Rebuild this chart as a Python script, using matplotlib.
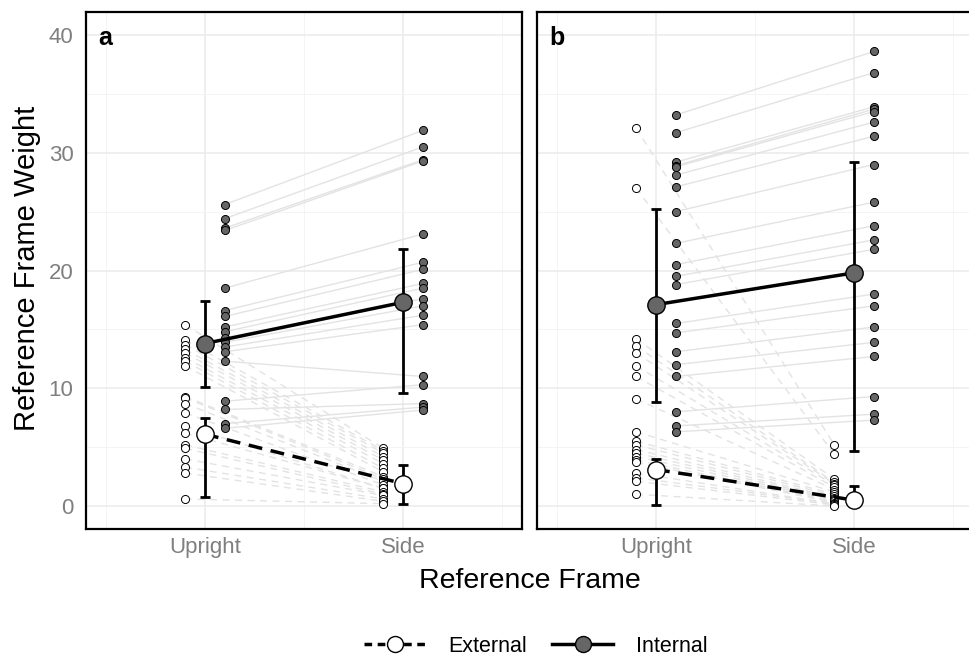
import numpy as np
import matplotlib.pyplot as plt
from matplotlib.lines import Line2D

plt.rcParams['font.family'] = ['Liberation Sans', 'DejaVu Sans']

# individual participant weights
a_ext_up = [15.4, 14.1, 13.7, 13.3, 13.0, 12.6, 12.3, 11.9, 9.3, 9.2,
            8.7, 7.9, 6.8, 6.2, 5.2, 4.9, 4.0, 3.3, 2.8, 0.6]
a_ext_side = [4.9, 4.7, 4.5, 4.2, 3.9, 3.6, 3.2, 2.9, 2.5, 2.3,
              2.1, 1.8, 1.5, 1.5, 1.2, 1.0, 0.9, 0.6, 0.4, 0.2]
a_int_up = [25.6, 24.4, 23.6, 23.4, 18.5, 16.6, 16.1, 15.2, 14.8, 14.3,
            13.9, 13.5, 13.1, 12.3, 8.9, 8.2, 7.0, 6.6]
a_int_side = [31.9, 30.5, 29.4, 29.3, 23.1, 20.7, 20.1, 18.9, 18.5, 17.6,
              17.0, 16.2, 15.4, 11.0, 10.3, 8.7, 8.4, 8.15]

b_ext_up = [32.1, 27.0, 14.2, 13.6, 13.0, 11.9, 11.0, 9.1, 6.3, 5.5,
            5.2, 4.8, 4.5, 4.2, 3.9, 3.7, 2.8, 2.4, 2.1, 1.0]
b_ext_side = [5.2, 4.4, 2.3, 2.0, 1.9, 1.8, 1.6, 1.4, 1.2, 1.0,
              0.85, 0.7, 0.6, 0.5, 0.4, 0.3, 0.2, 0.2, 0.1, 0.0]
b_int_up = [33.2, 31.7, 29.2, 28.9, 28.8, 28.1, 27.1, 25.0, 22.3, 20.5,
            19.5, 18.8, 15.5, 14.7, 13.1, 12.0, 11.0, 8.0, 6.8, 6.3]
b_int_side = [38.6, 36.8, 33.9, 33.7, 33.5, 32.6, 31.4, 29.0, 25.8, 23.8,
              22.6, 21.8, 18.0, 17.0, 15.2, 13.9, 12.7, 9.3, 7.8, 7.3]

# summary points: mean, lower, upper for [Upright, Side]
a_ext_mean = [6.1, 1.9]
a_ext_lo = [0.8, 0.2]
a_ext_hi = [7.5, 3.5]
a_int_mean = [13.8, 17.3]
a_int_lo = [10.1, 9.6]
a_int_hi = [17.4, 21.8]

b_ext_mean = [3.1, 0.5]
b_ext_lo = [0.1, 0.0]
b_ext_hi = [4.0, 1.7]
b_int_mean = [17.1, 19.8]
b_int_lo = [8.8, 4.7]
b_int_hi = [25.2, 29.2]

frames = ['Upright', 'Side']

panels = [
    ('a', a_ext_up, a_ext_side, a_int_up, a_int_side,
     a_ext_mean, a_ext_lo, a_ext_hi, a_int_mean, a_int_lo, a_int_hi),
    ('b', b_ext_up, b_ext_side, b_int_up, b_int_side,
     b_ext_mean, b_ext_lo, b_ext_hi, b_int_mean, b_int_lo, b_int_hi),
]

W, H = 969, 658
fig = plt.figure(figsize=(W / 100, H / 100), dpi=100)
top, bottom = 12, 529
lefts = [86, 537]
pw = 436

int_fill = '#666666'
ind_line = '#e3e3e3'

for i, (tag, eu, es, iu, is_, em, el, eh, im, il, ih) in enumerate(panels):
    ax = fig.add_axes([lefts[i] / W, 1 - bottom / H, pw / W, (bottom - top) / H])
    x = np.arange(1, len(frames) + 1)

    # individual participant lines
    for u, s in zip(sorted(eu), sorted(es)):
        ax.plot([x[0] - 0.1, x[1] - 0.1], [u, s], color=ind_line, lw=1.0,
                ls=(0, (5, 4)), zorder=1)
    for u, s in zip(sorted(iu), sorted(is_)):
        ax.plot([x[0] + 0.1, x[1] + 0.1], [u, s], color=ind_line, lw=1.0,
                zorder=1)

    # individual points
    ax.plot(np.full(len(eu), x[0] - 0.1), eu, 'o', ms=5.8, mfc='white',
            mec='black', mew=0.7, zorder=2)
    ax.plot(np.full(len(es), x[1] - 0.1), es, 'o', ms=5.8, mfc='white',
            mec='black', mew=0.7, zorder=2)
    ax.plot(np.full(len(iu), x[0] + 0.1), iu, 'o', ms=5.8, mfc=int_fill,
            mec='black', mew=0.7, zorder=2)
    ax.plot(np.full(len(is_), x[1] + 0.1), is_, 'o', ms=5.8, mfc=int_fill,
            mec='black', mew=0.7, zorder=2)

    # error bars
    for m, lo, hi in [(em, el, eh), (im, il, ih)]:
        ax.errorbar(x, m, yerr=[np.array(m) - np.array(lo), np.array(hi) - np.array(m)],
                    fmt='none', ecolor='black', elinewidth=2, capsize=3.5,
                    capthick=2, zorder=3)

    # mean lines and points
    ax.plot(x, em, color='black', lw=2.5, ls=(0, (4, 2.5)), zorder=3)
    ax.plot(x, im, color='black', lw=2.5, zorder=3)
    ax.plot(x, em, 'o', ms=12.5, mfc='white', mec='black', mew=1.0, zorder=4)
    ax.plot(x, im, 'o', ms=12.5, mfc=int_fill, mec='black', mew=1.0, zorder=4)

    ax.set_xlim(0.4, 2.6)
    ax.set_ylim(-1.95, 41.95)
    ax.set_xticks(x)
    ax.set_xticklabels(frames)
    ax.set_xticks([0.5, 1.5, 2.5], minor=True)
    ax.set_yticks([0, 10, 20, 30, 40])
    ax.set_yticks([5, 15, 25, 35], minor=True)
    ax.grid(True, which='major', color='#ebebeb', lw=1.1)
    ax.grid(True, which='minor', color='#f3f3f3', lw=0.6)
    ax.set_axisbelow(True)
    ax.tick_params(which='both', length=0, labelsize=16, labelcolor='#7f7f7f')
    ax.tick_params(axis='x', pad=6)
    ax.tick_params(axis='y', pad=9)
    if i == 1:
        ax.tick_params(axis='y', labelleft=False)
    for sp in ax.spines.values():
        sp.set_color('black')
        sp.set_linewidth(1.6)
    ax.text(0.028, 0.972, tag, transform=ax.transAxes, fontsize=18,
            fontweight='bold', va='top', ha='left')

fig.text(27 / W, 1 - 268 / H, 'Reference Frame Weight', rotation=90,
         fontsize=21, ha='center', va='center')
fig.text(530 / W, 1 - 581 / H, 'Reference Frame', fontsize=20.5,
         ha='center', va='center')

handles = [
    Line2D([], [], color='black', lw=2.5, ls=(0, (2.2, 1.6)), marker='o', ms=11.5,
           mfc='white', mec='black'),
    Line2D([], [], color='black', lw=2.5, marker='o', ms=11.5, mfc=int_fill,
           mec='black'),
]
fig.legend(handles, ['External', 'Internal'], loc='center',
           bbox_to_anchor=(536 / W, 1 - 646 / H), ncol=2, frameon=False,
           fontsize=15.5, handlelength=2.85, columnspacing=1.15, handletextpad=1.07)

fig.savefig('out.png', dpi=100)
